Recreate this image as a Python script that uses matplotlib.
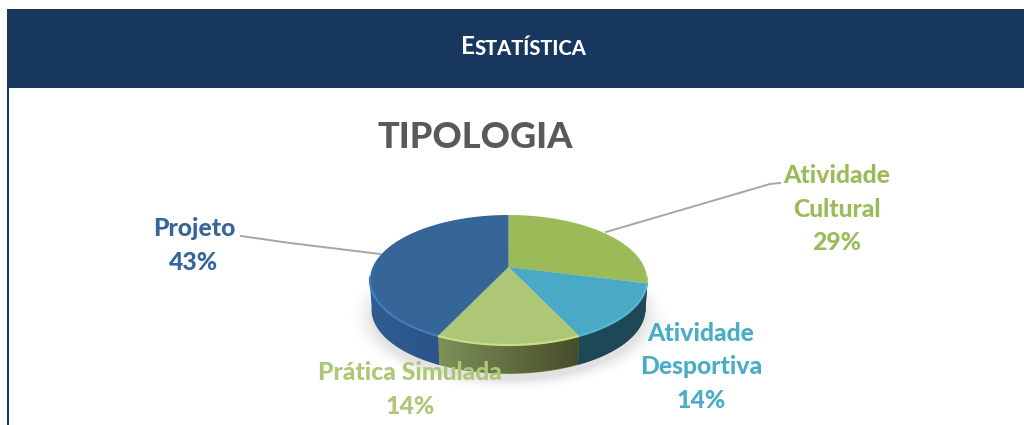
import numpy as np
import matplotlib
matplotlib.use("Agg")
import matplotlib.pyplot as plt
from matplotlib.colors import LinearSegmentedColormap
from matplotlib.patches import Polygon, Rectangle

plt.rcParams['font.family'] = ['Lato', 'DejaVu Sans']

categories = ["Atividade\nCultural", "Atividade\nDesportiva", "Prática Simulada", "Projeto"]
values = [29, 14, 14, 43]
top_colors = ["#9BBB59", "#4AA9C4", "#ADC777", "#366598"]
side_left = ["#5E6E34", "#1E4856", "#7F9158", "#2F5D92"]
side_right = ["#5E6E34", "#1E4856", "#454C2A", "#2B5488"]
rim_colors = ["#A9C763", "#55B8D2", "#C9DE85", "#447CBB"]
label_colors = ["#9BBB59", "#4BACC6", "#ADC777", "#366598"]
label_text = [f"{c}\n{v}%" for c, v in zip(categories, values)]
label_pos = [(837, 209), (701, 367), (410, 389.5), (194, 245.5)]

fig = plt.figure(figsize=(10.24, 4.25), dpi=100)
ax = fig.add_axes([0, 0, 1, 1])
ax.set_xlim(0, 1024)
ax.set_ylim(425, 0)
ax.axis('off')

NAVY = "#17375E"
ax.add_patch(Rectangle((7, 9), 1017, 79, fc=NAVY, ec='none', zorder=1))
ax.add_patch(Rectangle((7, 88), 2, 337, fc=NAVY, ec='none', zorder=1))

# header in small caps
h1 = ax.text(461, 44, "E", color='white', fontsize=17.5, fontweight='bold',
             ha='left', va='center_baseline', zorder=5)
ax.annotate("STATÍSTICA", xy=(1, 0), xycoords=h1, xytext=(0, 0), textcoords='offset points',
            color='white', fontsize=14.5, fontweight='black', ha='left', va='bottom', zorder=5)

ax.text(475, 137, "TIPOLOGIA", color="#595959", fontsize=26, fontweight='black',
        ha='center', va='center', zorder=5)

# projective pie geometry
CX, CY = 508.5, 267.0
A, B, K = 135.7, 62.4, 0.2
SCALE, DROP = 0.985, 29.5


def project(theta, radius=1.0, lower=False):
    """theta: clockwise from 12 o'clock, in radians."""
    u, v = radius * np.sin(theta), radius * np.cos(theta)
    w = 1 + K * v
    x, y = A * u / w, -B * v / w
    if lower:
        x, y = SCALE * x, SCALE * y + DROP
    return CX + x, CY + y


# soft shadow
xx, yy = np.meshgrid(np.linspace(330, 690, 360), np.linspace(190, 425, 235))
d = np.sqrt(((xx - 509) / 136) ** 2 + ((yy - 316) / 64) ** 2)
alpha = np.clip((1.2 - d) / 0.2, 0, 1) ** 2 * 0.2
shadow = np.zeros(d.shape + (4,))
shadow[..., :3] = 0.45
shadow[..., 3] = alpha
ax.imshow(shadow, extent=(330, 690, 425, 190), zorder=2, aspect='auto', interpolation='bilinear')

fractions = np.cumsum([0] + values) / sum(values) * 2 * np.pi
for i in range(len(values)):
    t = np.linspace(fractions[i], fractions[i + 1], 160)
    xt, yt = project(t)
    t = t[yt > 277]
    xt, yt = project(t)
    xb, yb = project(t, lower=True)
    side_pts = np.column_stack([np.r_[xt, xb[::-1]], np.r_[yt, yb[::-1]]])
    ax.fill(side_pts[:, 0], side_pts[:, 1], color=side_left[i], lw=0.8, zorder=2.9)
    cmap = LinearSegmentedColormap.from_list("s", [side_left[i], side_right[i]])
    x0, x1 = min(xt.min(), xb.min()), max(xt.max(), xb.max())
    im = ax.imshow(np.linspace(0, 1, 256)[None, :], extent=(x0, x1, 425, 190), cmap=cmap,
                   aspect='auto', zorder=3)
    im.set_clip_path(Polygon(side_pts, transform=ax.transData, fc='none', ec='none'))

for i in range(len(values)):
    t = np.linspace(fractions[i], fractions[i + 1], 160)
    xt, yt = project(t)
    ax.fill(np.r_[CX, xt], np.r_[CY, yt], color=top_colors[i], lw=0, zorder=4)
    front = yt > 276
    ax.plot(xt[front], yt[front], color=rim_colors[i], lw=1.6, zorder=4.5, solid_capstyle='butt')

# leader lines
ax.plot([380, 290, 241], [254, 243, 236], color="#A6A6A6", lw=1.4, zorder=3.5)
ax.plot([606, 770, 780], [232, 184, 183], color="#A6A6A6", lw=1.4, zorder=3.5)

for txt, pos, col in zip(label_text, label_pos, label_colors):
    ax.text(pos[0], pos[1], txt, color=col, fontsize=17.8, fontweight='black', ha='center',
            va='center', linespacing=1.53, zorder=6)

ax.set_xlim(0, 1024)
ax.set_ylim(425, 0)
fig.savefig("out.png", dpi=100, facecolor='white')
